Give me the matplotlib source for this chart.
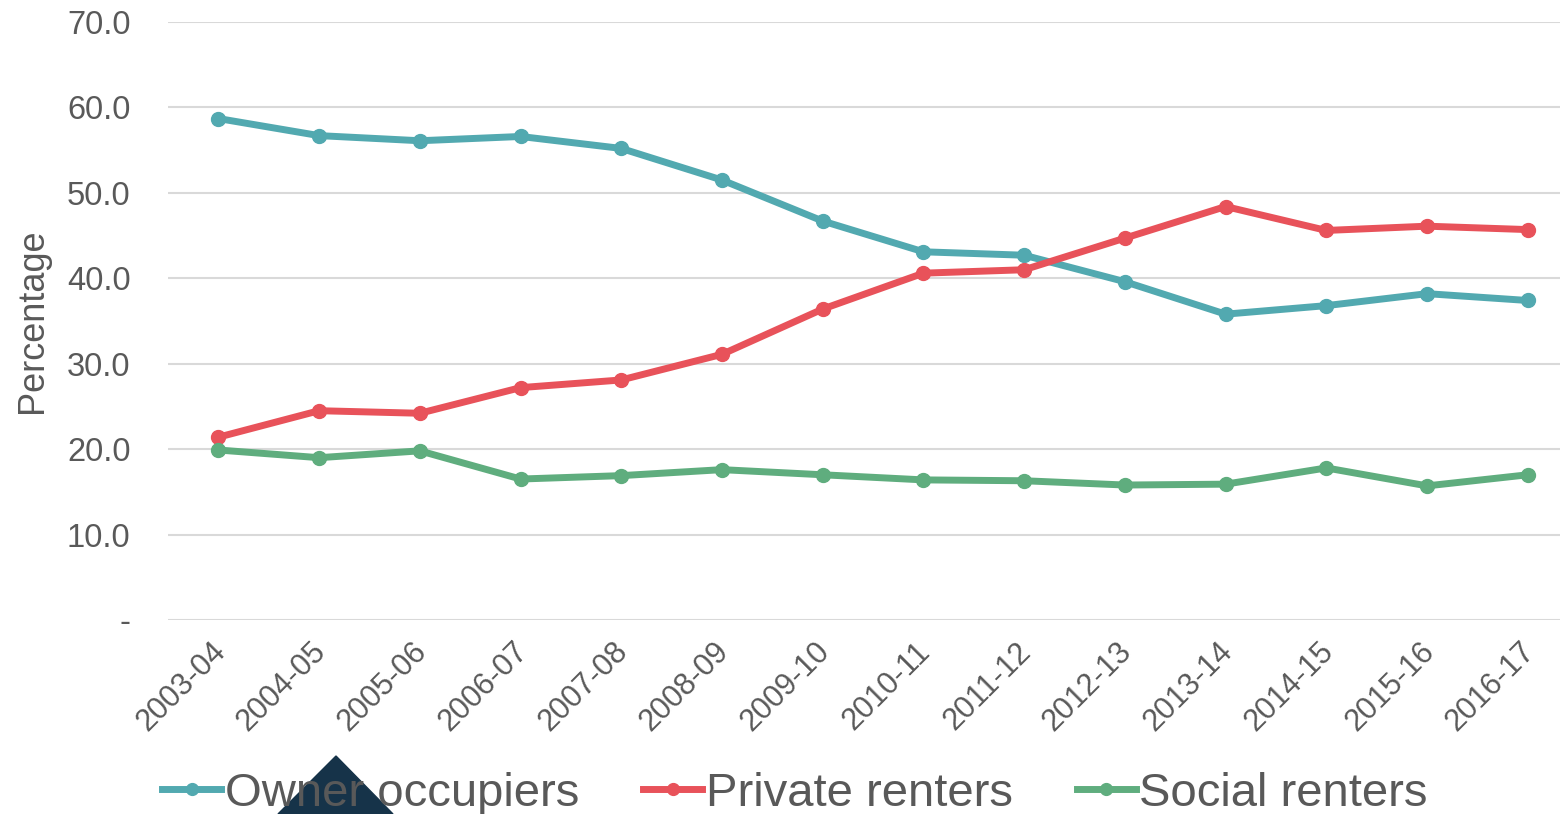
import matplotlib
matplotlib.use('Agg')
import matplotlib.pyplot as plt
import matplotlib.transforms as mtransforms
from matplotlib.patches import Polygon

plt.rcParams['font.family'] = ['Liberation Sans', 'DejaVu Sans']

# Data
years = ['2003-04', '2004-05', '2005-06', '2006-07', '2007-08', '2008-09', '2009-10',
         '2010-11', '2011-12', '2012-13', '2013-14', '2014-15', '2015-16', '2016-17']
owner = [58.7, 56.7, 56.1, 56.6, 55.2, 51.5, 46.7, 43.1, 42.7, 39.6, 35.8, 36.8, 38.2, 37.4]
private = [21.4, 24.5, 24.2, 27.2, 28.1, 31.1, 36.4, 40.6, 41.0, 44.7, 48.4, 45.6, 46.1, 45.7]
social = [19.9, 19.0, 19.8, 16.5, 16.9, 17.6, 17.0, 16.4, 16.3, 15.8, 15.9, 17.8, 15.7, 17.0]

yticks = [0, 10, 20, 30, 40, 50, 60, 70]
ylabels = ['-', '10.0', '20.0', '30.0', '40.0', '50.0', '60.0', '70.0']

grey = '#595959'

fig = plt.figure(figsize=(15.6, 8.14), dpi=100)
ax = fig.add_axes([168 / 1560, 1 - 620 / 814, (1560 - 168) / 1560, (620 - 22) / 814])

x = range(len(years))
ax.plot(x, owner, color='#52A9B0', lw=5, marker='o', ms=10, label='Owner occupiers', zorder=3)
ax.plot(x, private, color='#E8525A', lw=5, marker='o', ms=10, label='Private renters', zorder=3)
ax.plot(x, social, color='#5FAD7E', lw=5, marker='o', ms=10, label='Social renters', zorder=3)

ax.set_xlim(-0.5, 13.32)
ax.set_ylim(0, 70)
ax.set_yticks(yticks)
ax.set_yticklabels(ylabels, fontsize=23.5, color=grey)
ax.set_xticks(list(x))
ax.set_xticklabels(years, rotation=45, ha='right', rotation_mode='anchor', fontsize=22, color=grey)
ax.tick_params(axis='both', length=0)
ax.tick_params(axis='y', pad=27)
ax.tick_params(axis='x', pad=12)
# nudge the slanted labels a little to the left
shift = mtransforms.ScaledTranslation(-8 / 100, 0, fig.dpi_scale_trans)
for lab in ax.get_xticklabels():
    lab.set_transform(lab.get_transform() + shift)
ax.grid(axis='y', color='#D9D9D9', lw=1.5)
ax.set_axisbelow(True)
for s in ax.spines.values():
    s.set_visible(False)
ax.set_ylabel('Percentage', fontsize=26, color=grey)
ax.yaxis.set_label_coords(-0.085, 0.5)

# stray dark triangle at the bottom
tri = Polygon([[278 / 1560, 0], [336 / 1560, 1 - 756 / 814], [393 / 1560, 0]],
              closed=True, transform=fig.transFigure, color='#163349', zorder=0)
fig.patches.append(tri)

leg = fig.legend(loc='center', bbox_to_anchor=(795 / 1560, 1 - 794 / 814), ncol=3,
                 frameon=False, fontsize=34, handlelength=1.25, handletextpad=0.08,
                 columnspacing=1.35, borderpad=0, markerscale=0.85)
for t in leg.get_texts():
    t.set_color(grey)

fig.savefig('out.png', dpi=100)
